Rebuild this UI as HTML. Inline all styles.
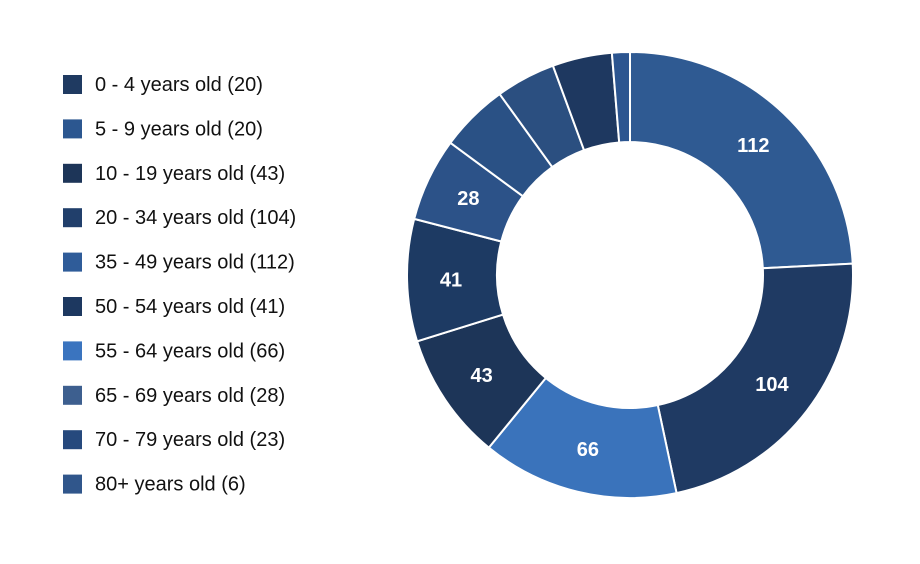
<!DOCTYPE html>
<html><head><meta charset="utf-8"><style>
body{margin:0;background:#fff;width:920px;height:564px;overflow:hidden;font-family:"Liberation Sans",sans-serif}
svg{position:absolute;left:0;top:0}
</style></head><body>
<svg width="920" height="564">
<g id="legend"></g>
<g id="slices"></g>
</svg>
<script>
const legendLabels=["0 - 4 years old","5 - 9 years old","10 - 19 years old","20 - 34 years old","35 - 49 years old","50 - 54 years old","55 - 64 years old","65 - 69 years old","70 - 79 years old","80+ years old"];
const legendValues=[20,20,43,104,112,41,66,28,23,6];
const legendColors=["#1f3a61","#2c5790","#1d3558","#213f6b","#2f5c99","#1d3860","#3a74bf","#3d5f8f","#26497d","#30568b"];
const sliceValues=[112,104,66,43,41,28,23,20,20,6];
const sliceColors=["#2f5a92","#1f3a63","#3a73bb","#1d3558","#1d3a63","#2c5288","#2a5185","#2b4f80","#1e3860","#2c5590"];
const showLabel=[true,true,true,true,true,true,false,false,false,false];
const NS="http://www.w3.org/2000/svg";
const cx=630,cy=275,R=223,r=133,LR=179;
const lg=document.getElementById('legend');
legendLabels.forEach((l,i)=>{
  const y=84+i*44.4;
  const s=document.createElementNS(NS,'rect');
  
  
  s.setAttribute('x',63);s.setAttribute('y',y-9);s.setAttribute('width',19);s.setAttribute('height',19);s.setAttribute('fill',legendColors[i]);
  lg.appendChild(s);
  const t=document.createElementNS(NS,'text');
  
  
  t.setAttribute('x',95);t.setAttribute('y',y+7);t.setAttribute('font-size',20);t.setAttribute('fill','#111');
  t.textContent=l+" ("+legendValues[i]+")";
  lg.appendChild(t);
});
const total=sliceValues.reduce((a,b)=>a+b,0);
const sg=document.getElementById('slices');
let a0=0;
function pt(rad,a){return [cx+rad*Math.sin(a),cy-rad*Math.cos(a)];}
sliceValues.forEach((v,i)=>{
  const a1=a0+v/total*Math.PI*2;
  const big=(a1-a0)>Math.PI?1:0;
  const p1=pt(R,a0),p2=pt(R,a1),p3=pt(r,a1),p4=pt(r,a0);
  const p=document.createElementNS(NS,'path');
  
  
  p.setAttribute('d',`M${p1}A${R},${R} 0 ${big} 1 ${p2}L${p3}A${r},${r} 0 ${big} 0 ${p4}Z`);
  p.setAttribute('fill',sliceColors[i]);p.setAttribute('stroke','#fff');p.setAttribute('stroke-width',2);
  sg.appendChild(p);
  if(showLabel[i]){
    const m=pt(LR,(a0+a1)/2);
    const t=document.createElementNS(NS,'text');
    
    
    t.setAttribute('x',m[0]);t.setAttribute('y',m[1]+7);t.setAttribute('text-anchor','middle');
    t.setAttribute('font-size',20);t.setAttribute('font-weight','bold');t.setAttribute('fill','#fff');
    t.textContent=v;
    sg.appendChild(t);
  }
  a0=a1;
});
</script>
</body></html>
